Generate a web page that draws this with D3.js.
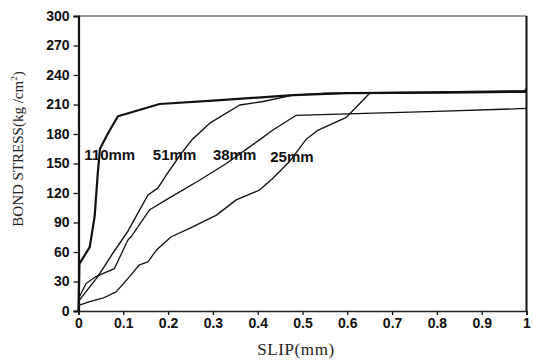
<!DOCTYPE html>
<html>
<head>
<meta charset="utf-8">
<script src="https://cdn.jsdelivr.net/npm/d3@7"></script>
<style>
  html, body { margin: 0; padding: 0; background: #fff; }
  svg { display: block; }
  .tick text { font-family: "Liberation Sans", Arial, sans-serif; font-weight: bold; font-size: 14px; fill: #111; }
  .title { font-family: "Liberation Serif", "Times New Roman", serif; fill: #222; }
  .lbl { font-family: "Liberation Sans", Arial, sans-serif; font-weight: bold; font-size: 15px; fill: #111; }
</style>
</head>
<body>
<svg id="chart" width="533" height="361"></svg>
<script>
// Bond stress (kg/cm²) vs slip (mm) for four embedment lengths
const xTicks = [0, 0.1, 0.2, 0.3, 0.4, 0.5, 0.6, 0.7, 0.8, 0.9, 1];
const xTickLabels = ["0", "0.1", "0.2", "0.3", "0.4", "0.5", "0.6", "0.7", "0.8", "0.9", "1"];
const yTicks = [0, 30, 60, 90, 120, 150, 180, 210, 240, 270, 300];

const series110 = [[0,0],[0.002,48],[0.025,65],[0.036,96],[0.043,140],[0.048,165],[0.065,180],[0.088,198],[0.181,210.5],[0.3,214],[0.479,219.5],[0.6,221.5],[0.8,222],[1.0,223]];
const series51 = [[0,0],[0.002,11],[0.043,35],[0.077,59],[0.110,81],[0.155,118],[0.177,125],[0.203,143],[0.229,160],[0.255,175],[0.293,191],[0.36,209.5],[0.412,213],[0.479,219.5],[0.55,221.5],[0.75,222.5],[0.995,224],[1.0,226]];
const series38 = [[0,0],[0.002,14.5],[0.017,28],[0.039,35],[0.080,43],[0.110,72],[0.118,76],[0.159,103],[0.203,115],[0.270,133],[0.330,150],[0.404,174],[0.434,184],[0.486,199],[0.6,200.5],[0.8,203],[1.0,206]];
const series25 = [[0,0],[0.002,6],[0.025,9.5],[0.054,13],[0.084,19.5],[0.114,35],[0.136,47],[0.155,50],[0.174,62],[0.207,75.5],[0.248,84],[0.308,97.5],[0.352,113],[0.404,123],[0.434,135],[0.471,152],[0.509,175],[0.535,184],[0.598,197],[0.65,221.5],[0.8,222],[1.0,222.5]];

const seriesNames = ["110mm", "51mm", "38mm", "25mm"];
const seriesData = [series110, series51, series38, series25];
const seriesWidths = [2.2, 1.4, 1.3, 1.3];
// label anchor in data units (slip, stress)
const labelPos = [[0.013, 154], [0.166, 154], [0.30, 154], [0.428, 152]];

const svg = d3.select("#chart");
const plotLeft = 78.5, plotRight = 526.5, plotTop = 16, plotBottom = 311;

const x = d3.scaleLinear().domain([0, 1]).range([plotLeft, plotRight]);
const y = d3.scaleLinear().domain([0, 300]).range([plotBottom, plotTop]);

// frame: top and right borders
svg.append("line").attr("x1", plotLeft).attr("x2", plotRight).attr("y1", plotTop).attr("y2", plotTop)
  .attr("stroke", "#333").attr("stroke-width", 1);
svg.append("line").attr("x1", plotRight).attr("x2", plotRight).attr("y1", plotTop).attr("y2", plotBottom)
  .attr("stroke", "#111").attr("stroke-width", 2);

// axes
const yAxis = svg.append("g").attr("transform", `translate(${plotLeft},0)`)
  .call(d3.axisLeft(y).tickValues(yTicks).tickSize(5).tickPadding(4));
const xAxis = svg.append("g").attr("transform", `translate(0,${plotBottom})`)
  .call(d3.axisBottom(x).tickValues(xTicks).tickFormat((d, i) => xTickLabels[i]).tickSize(4).tickPadding(3));
yAxis.select(".domain").attr("stroke", "#111").attr("stroke-width", 2.2);
xAxis.select(".domain").attr("stroke", "#222").attr("stroke-width", 1.6);
svg.selectAll(".tick line").attr("stroke", "#111").attr("stroke-width", 1.3);

// curves
const line = d3.line().x(d => x(d[0])).y(d => y(d[1]));
seriesData.forEach((s, i) => {
  svg.append("path").datum(s).attr("d", line)
    .attr("fill", "none").attr("stroke", "#111")
    .attr("stroke-width", seriesWidths[i]).attr("stroke-linejoin", "round");
});

// curve labels
seriesNames.forEach((n, i) => {
  svg.append("text").attr("class", "lbl")
    .attr("x", x(labelPos[i][0])).attr("y", y(labelPos[i][1]))
    .text(n);
});

// axis titles
const yt = svg.append("text").attr("class", "title")
  .attr("transform", "translate(23,149) rotate(-90)")
  .attr("text-anchor", "middle").attr("font-size", 15);
yt.append("tspan").text("BOND STRESS(kg /cm");
yt.append("tspan").attr("dy", -6).attr("font-size", 9).text("2");
yt.append("tspan").attr("dy", 6).text(")");

svg.append("text").attr("class", "title")
  .attr("x", 296).attr("y", 355).attr("text-anchor", "middle")
  .attr("font-size", 17).attr("letter-spacing", 0.6)
  .text("SLIP(mm)");
</script>
</body>
</html>
